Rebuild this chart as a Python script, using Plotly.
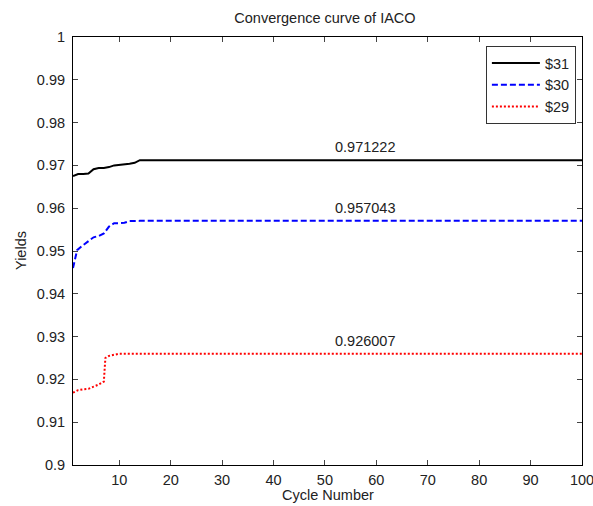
import plotly.graph_objects as go

# after the last listed cycle each curve stays flat up to cycle 100
cycles_31 = [1, 2, 3, 4, 5, 6, 7, 8, 9, 10, 11, 12, 13, 14, 100]
yields_31 = [0.9675, 0.9680, 0.9680, 0.9681, 0.9691, 0.9694, 0.9694, 0.9696,
             0.9700, 0.9701, 0.9702, 0.9704, 0.9706, 0.971222, 0.971222]

cycles_30 = [1, 1.8, 3, 4, 5, 6, 7, 8, 9, 10, 11, 12, 13, 14, 100]
yields_30 = [0.9460, 0.9502, 0.9514, 0.9522, 0.9532, 0.9535, 0.9541, 0.9557,
             0.9565, 0.9565, 0.9566, 0.9570, 0.95704, 0.957043, 0.957043]

cycles_29 = [1, 2, 3, 4, 5, 6, 7, 7.3, 8, 9, 10, 100]
yields_29 = [0.9169, 0.9175, 0.9177, 0.9178, 0.9183, 0.9188, 0.9195, 0.9250,
             0.9255, 0.9258, 0.926007, 0.926007]

final_labels = ["0.971222", "0.957043", "0.926007"]
final_values = [0.971222, 0.957043, 0.926007]

y_ticks = [0.9, 0.91, 0.92, 0.93, 0.94, 0.95, 0.96, 0.97, 0.98, 0.99, 1.0]
y_ticktext = ["0.9", "0.91", "0.92", "0.93", "0.94", "0.95", "0.96", "0.97", "0.98", "0.99", "1"]
x_ticks = [10, 20, 30, 40, 50, 60, 70, 80, 90, 100]

font_name = "Liberation Sans, Arial, sans-serif"
fsize = 14.5
txt_col = "#222222"

fig = go.Figure()
fig.add_trace(go.Scatter(x=cycles_31, y=yields_31, mode="lines", name="$31", legendgroup="a",
                         line=dict(color="black", width=2)))
fig.add_trace(go.Scatter(x=cycles_30, y=yields_30, mode="lines", name="$30", legendgroup="b",
                         line=dict(color="#0000ff", width=2, dash="6px,3px")))
fig.add_trace(go.Scatter(x=cycles_29, y=yields_29, mode="lines", name="$29", legendgroup="c",
                         line=dict(color="#ff0000", width=2, dash="2px,2px")))

# value labels above the flat part of each curve
for lab, val in zip(final_labels, final_values):
    fig.add_annotation(x=51.6, y=val, text=lab, showarrow=False,
                       xanchor="left", yanchor="bottom", yshift=3,
                       font=dict(size=fsize, color=txt_col, family=font_name))

# axis titles placed by hand (automargin is off, so standoff does not apply)
fig.add_annotation(text="Cycle Number", xref="paper", yref="paper", x=0.5, y=0,
                   yshift=-30, xanchor="center", yanchor="middle", showarrow=False,
                   font=dict(size=fsize, color=txt_col))
fig.add_annotation(text="Yields", xref="paper", yref="paper", x=0, y=0.5,
                   xshift=-52, xanchor="center", yanchor="middle", textangle=-90,
                   showarrow=False, font=dict(size=fsize, color=txt_col))

fig.update_xaxes(range=[1, 100], tickvals=x_ticks, ticks="inside", ticklen=5,
                 ticklabelstandoff=2, ticklabeloverflow="allow", automargin=False,
                 showline=True, linecolor="black", linewidth=1, mirror="allticks",
                 showgrid=False, zeroline=False,
                 tickfont=dict(size=fsize, color=txt_col))
fig.update_yaxes(range=[0.9, 1.0], tickvals=y_ticks, ticktext=y_ticktext,
                 ticks="inside", ticklen=5, ticklabelstandoff=4, automargin=False,
                 showline=True, linecolor="black", linewidth=1, mirror="allticks",
                 showgrid=False, zeroline=False,
                 tickfont=dict(size=fsize, color=txt_col))

fig.update_layout(
    width=593, height=506,
    margin=dict(l=73, r=11, t=37, b=41),
    paper_bgcolor="white", plot_bgcolor="white",
    font=dict(family=font_name, size=fsize, color=txt_col),
    title=dict(text="Convergence curve of IACO", x=0.548, xanchor="center",
               y=0.965, yanchor="middle", font=dict(size=fsize, color=txt_col)),
    showlegend=True,
    legend=dict(x=0.988, y=0.979, xanchor="right", yanchor="top",
                bgcolor="white", bordercolor="#333333", borderwidth=1,
                traceorder="grouped", tracegroupgap=0, itemwidth=48,
                font=dict(size=fsize, color=txt_col)),
)

# drop the default body margin so the chart sits at the page corner
fig.write_html("out.html", config={"displayModeBar": False},
               post_script="document.body.style.margin='0';")
